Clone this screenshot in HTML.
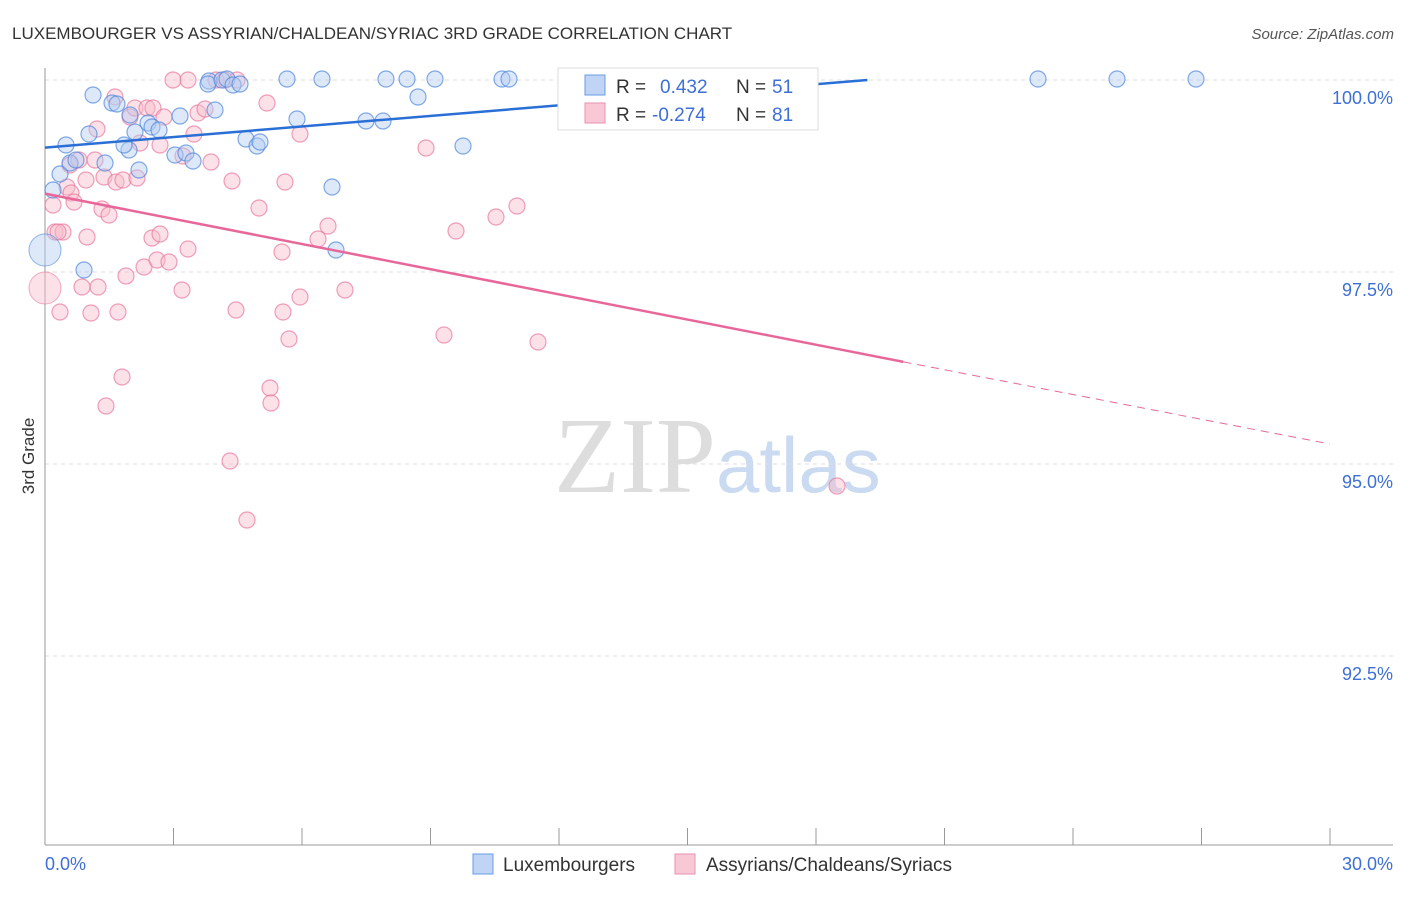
<!DOCTYPE html>
<html><head><meta charset="utf-8"><style>
body{margin:0;background:#fff;font-family:"Liberation Sans",sans-serif}
</style></head><body>
<svg width="1406" height="892" xmlns="http://www.w3.org/2000/svg">
<text x="12" y="39" font-size="17" fill="#333">LUXEMBOURGER VS ASSYRIAN/CHALDEAN/SYRIAC 3RD GRADE CORRELATION CHART</text>
<text x="1394" y="39" font-size="15" fill="#555" font-style="italic" text-anchor="end">Source: ZipAtlas.com</text>
<text x="716" y="492" font-size="108" fill="#ddd" font-family="Liberation Serif,serif" text-anchor="end">ZIP</text>
<text x="716" y="492" font-size="78" fill="#c9daf1">atlas</text>
<g id="grid"></g>
<g id="axes"></g>
<g id="pts"></g>
<g id="lines"></g>
<text x="34" y="456" font-size="17" fill="#333" text-anchor="middle" transform="rotate(-90 34 456)">3rd Grade</text>
<text x="45" y="870" font-size="18" fill="#3d6fd6">0.0%</text>
<text x="1393" y="870" font-size="18" fill="#3d6fd6" text-anchor="end">30.0%</text>
<g>
<rect x="558" y="68" width="260" height="62" fill="#fff" stroke="#ddd"/>
<rect x="585" y="75" width="20" height="20" fill="#c0d5f5" stroke="#6a9be0"/>
<rect x="585" y="103" width="20" height="20" fill="#f8c8d6" stroke="#e890ae"/>
<text x="616" y="93" font-size="19" fill="#333">R =</text><text x="660" y="93" font-size="19" fill="#3d6fd6">0.432</text><text x="736" y="93" font-size="19" fill="#333">N =</text><text x="772" y="93" font-size="19" fill="#3d6fd6">51</text>
<text x="616" y="121" font-size="19" fill="#333">R =</text><text x="652" y="121" font-size="19" fill="#3d6fd6">-0.274</text><text x="736" y="121" font-size="19" fill="#333">N =</text><text x="772" y="121" font-size="19" fill="#3d6fd6">81</text>
</g>
<g><rect x="473" y="854" width="20" height="20" fill="#c0d5f5" stroke="#6a9be0"/><text x="503" y="871" font-size="19" fill="#333">Luxembourgers</text></g>
<g><rect x="675" y="854" width="20" height="20" fill="#f8c8d6" stroke="#e890ae"/><text x="706" y="871" font-size="19" fill="#333">Assyrians/Chaldeans/Syriacs</text></g>
</svg>
<script>
const yTicks=[100,97.5,95,92.5];
const yTickLabels=["100.0%","97.5%","95.0%","92.5%"];
const xTicks=[0,3,6,9,12,15,18,21,24,27,30];
const bluePx=[[93,95],[112,103],[117,104],[66,145],[60,174],[53,190],[70,163],[76,160],[105,163],[89,134],[129,150],[124,145],[130,115],[135,132],[148,123],[152,127],[159,130],[180,116],[175,155],[186,153],[193,161],[209,81],[208,84],[222,80],[227,79],[233,85],[240,84],[215,110],[246,139],[257,146],[260,142],[287,79],[297,119],[322,79],[332,187],[336,250],[366,121],[383,121],[386,79],[407,79],[418,97],[435,79],[463,146],[502,79],[509,79],[139,170],[84,270],[1038,79],[1117,79],[1196,79]];
const pinkPx=[[53,205],[55,232],[63,232],[60,312],[67,187],[71,193],[74,202],[70,165],[79,160],[87,237],[86,180],[91,313],[97,129],[98,287],[95,160],[102,209],[104,177],[109,215],[106,406],[115,97],[116,182],[118,312],[122,377],[123,180],[126,276],[130,117],[135,108],[137,178],[140,143],[144,267],[147,108],[152,238],[153,108],[157,260],[160,234],[164,117],[160,145],[169,262],[173,80],[182,290],[183,156],[188,80],[188,249],[194,134],[198,113],[205,109],[211,162],[216,80],[225,80],[232,181],[230,461],[236,310],[237,80],[247,520],[259,208],[267,103],[270,388],[271,403],[282,252],[283,312],[285,182],[289,339],[300,134],[300,297],[318,239],[328,226],[345,290],[426,148],[444,335],[456,231],[496,217],[517,206],[538,342],[837,486],[58,232],[82,287]];
const blueX=bluePx.map(p=>(p[0]-45)/1285*30), blueY=bluePx.map(p=>100-(p[1]-80)/76.8);
const pinkX=pinkPx.map(p=>(p[0]-45)/1285*30), pinkY=pinkPx.map(p=>100-(p[1]-80)/76.8);
const blueTrend=[[0,99.12],[19.2,100]];
const pinkTrend=[[0,98.52],[20.04,96.33],[30,95.26]];
const X=v=>45+v/30*1285, Y=v=>80+(100-v)*76.8;
const NS="http://www.w3.org/2000/svg";
function mk(t,a,p){const e=document.createElementNS(NS,t);for(const k in a)e.setAttribute(k,a[k]);document.getElementById(p).appendChild(e);return e;}
yTicks.forEach((t,i)=>{
 const l=mk('line',{x1:45,x2:1393,y1:Y(t),y2:Y(t),stroke:'#ddd','stroke-dasharray':'4,4'},'grid');
 
 
 const tx=mk('text',{x:1393,y:Y(t)+24,'font-size':18,fill:'#3d6fd6','text-anchor':'end'},'grid');
 tx.textContent=yTickLabels[i];
 
 
});
const ya=mk('line',{x1:45,x2:45,y1:68,y2:845,stroke:'#999'},'axes');


const xa=mk('line',{x1:45,x2:1393,y1:845,y2:845,stroke:'#999'},'axes');


xTicks.forEach(t=>{
 const l=mk('line',{x1:X(t),x2:X(t),y1:828,y2:845,stroke:'#999'},'axes');
 
 
});
function pts(xs,ys,fill,stroke,name){xs.forEach((x,i)=>{
 const c=mk('circle',{cx:X(x),cy:Y(ys[i]),r:8,fill:fill,'fill-opacity':0.45,stroke:stroke,'stroke-opacity':0.7,'stroke-width':1.2},'pts');
 
 
});}
pts(pinkX,pinkY,'#f8bccd','#e8779d','assyrian-point');
pts(blueX,blueY,'#b4cdf2','#4f86dc','luxembourger-point');
const big1=mk('circle',{cx:X(0),cy:Y(100-(288-80)/76.8),r:16,fill:'#f8bccd','fill-opacity':0.45,stroke:'#e8779d','stroke-opacity':0.6},'pts');


const big2=mk('circle',{cx:X(0),cy:Y(100-(250-80)/76.8),r:16,fill:'#b4cdf2','fill-opacity':0.45,stroke:'#4f86dc','stroke-opacity':0.6},'pts');


const bl=mk('line',{x1:X(blueTrend[0][0]),y1:Y(blueTrend[0][1]),x2:X(blueTrend[1][0]),y2:Y(blueTrend[1][1]),stroke:'#2a6fd6','stroke-width':2.5},'lines');


const pl=mk('line',{x1:X(pinkTrend[0][0]),y1:Y(pinkTrend[0][1]),x2:X(pinkTrend[1][0]),y2:Y(pinkTrend[1][1]),stroke:'#e8679a','stroke-width':2.5},'lines');


const pd=mk('line',{x1:X(pinkTrend[1][0]),y1:Y(pinkTrend[1][1]),x2:X(pinkTrend[2][0]),y2:Y(pinkTrend[2][1]),stroke:'#e8679a','stroke-width':1,'stroke-dasharray':'8,6'},'lines');


</script>
</body></html>
